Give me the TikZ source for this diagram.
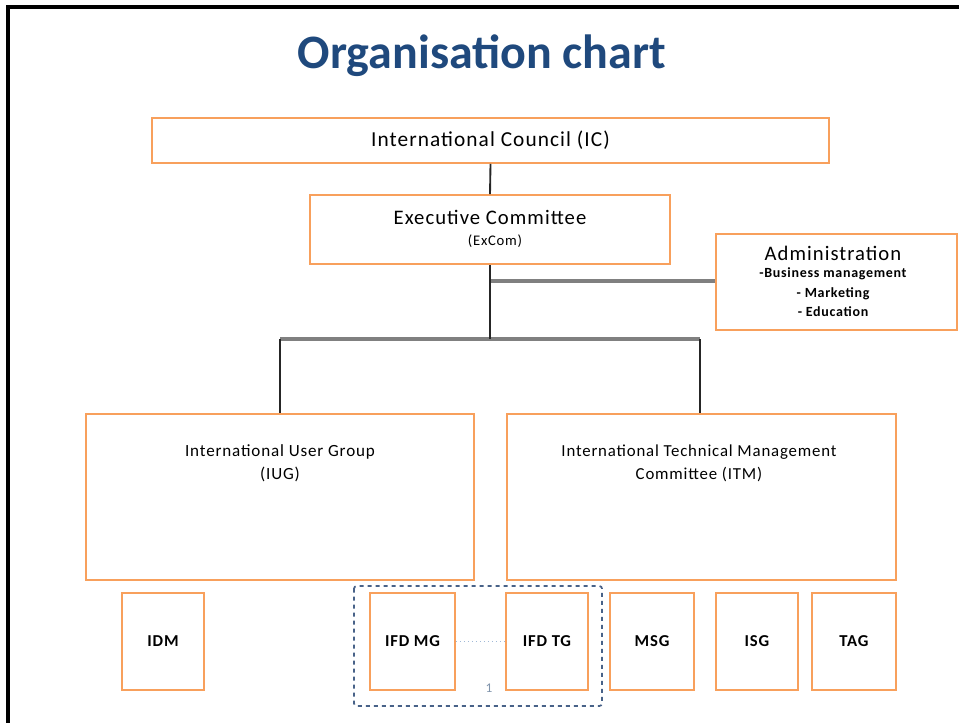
\documentclass[tikz,border=0pt]{standalone}
\usepackage{fontspec}
\setmainfont{Carlito}
\newfontfamily\wideface[LetterSpace=5]{Carlito}
\definecolor{boxorange}{RGB}{248,160,92}
\definecolor{titleblue}{RGB}{31,73,125}
\definecolor{dashblue}{RGB}{72,98,136}
\definecolor{linkgray}{RGB}{128,128,128}
\definecolor{dotblue}{RGB}{160,185,215}
\tikzset{
    orgbox/.style={draw=boxorange,line width=1.3pt,inner sep=0pt},
    linkline/.style={line width=1.4pt,black!85},
    busline/.style={line width=2.4pt,linkgray},
    smalltag/.style={font=\wideface\bfseries\fontsize{12.5}{14}\selectfont},
    adminitem/.style={font=\wideface\bfseries\fontsize{10.5}{12}\selectfont}
}
\begin{document}
\begin{tikzpicture}[x=0.75pt,y=-0.75pt]
    \useasboundingbox (0,0) rectangle (959,723);
    % frame
    \draw[line width=2.3pt] (8,723) -- (8,7) -- (959,7);
    \node (title) at (482,56) {\color{titleblue}\bfseries\fontsize{36}{40}\selectfont Organisation chart};
    % council and committees
    \node[orgbox,minimum width=677*0.75pt,minimum height=45*0.75pt] (ic) at (490.5,140.5)
        {\wideface\fontsize{16}{18}\selectfont International Council (IC)};
    \node[orgbox,minimum width=360*0.75pt,minimum height=69*0.75pt] (excom) at (490,229.5) {};
    \node (excomtext) at (490,217) {\wideface\fontsize{15.5}{18}\selectfont Executive Committee};
    \node (excomabbr) at (495,241) {\wideface\fontsize{11}{12}\selectfont (ExCom)};
    \node[orgbox,minimum width=241*0.75pt,minimum height=96*0.75pt] (admin) at (836.5,282) {};
    \node (admintext) at (833,253) {\wideface\fontsize{15.5}{16}\selectfont Administration};
    \node[adminitem] (business) at (833,274) {-Business management};
    \node[adminitem] (marketing) at (833,294) {- Marketing};
    \node[adminitem] (education) at (833,312) {- Education};
    \node[orgbox,minimum width=388*0.75pt,minimum height=166*0.75pt] (iug) at (280,497) {};
    \node (iugtext) at (280,463) [align=center,font=\wideface\fontsize{12.8}{17}\selectfont]
        {International User Group\\(IUG)};
    \node[orgbox,minimum width=389*0.75pt,minimum height=166*0.75pt] (itm) at (701.5,497) {};
    \node (itmtext) at (699,463) [align=center,font=\wideface\fontsize{12.6}{17}\selectfont]
        {International Technical Management\\Committee (ITM)};
    % groups
    \node[orgbox,smalltag,minimum width=82*0.75pt,minimum height=97*0.75pt] (idm) at (163,641.5) {IDM};
    \node[orgbox,smalltag,minimum width=85*0.75pt,minimum height=97*0.75pt] (ifdmg) at (412.5,641.5) {IFD MG};
    \node[orgbox,smalltag,minimum width=82*0.75pt,minimum height=97*0.75pt] (ifdtg) at (547,641.5) {IFD TG};
    \node[orgbox,smalltag,minimum width=84*0.75pt,minimum height=97*0.75pt] (msg) at (652,641.5) {MSG};
    \node[orgbox,smalltag,minimum width=82*0.75pt,minimum height=97*0.75pt] (isg) at (757,641.5) {ISG};
    \node[orgbox,smalltag,minimum width=84*0.75pt,minimum height=97*0.75pt] (tag) at (854,641.5) {TAG};
    \draw[dashblue,line width=1.3pt,dashed,rounded corners=2pt] (354,586) rectangle (602,706);
    \node[text=dotblue!80!black,font=\fontsize{10}{12}\selectfont] (one) at (489,688) {1};
    \draw[dotblue,line width=1pt,dotted] (ifdmg.east) -- (ifdtg.west);
    % connectors
    \coordinate (hub) at (490,339);
    \coordinate (adminjoin) at (490,281);
    \coordinate (iugjoin) at (280,339);
    \coordinate (itmjoin) at (700,339);
    \draw[busline] (adminjoin) -- (admin.west |- adminjoin);
    \draw[busline] (iugjoin) -- (itmjoin);
    \draw[linkline] (ic.south) -- (excom.north);
    \draw[linkline] (excom.south) -- (hub);
    \draw[linkline] (iugjoin) -- (iug.north);
    \draw[linkline] (itmjoin) -- (itmjoin |- itm.north);
\end{tikzpicture}
\end{document}
